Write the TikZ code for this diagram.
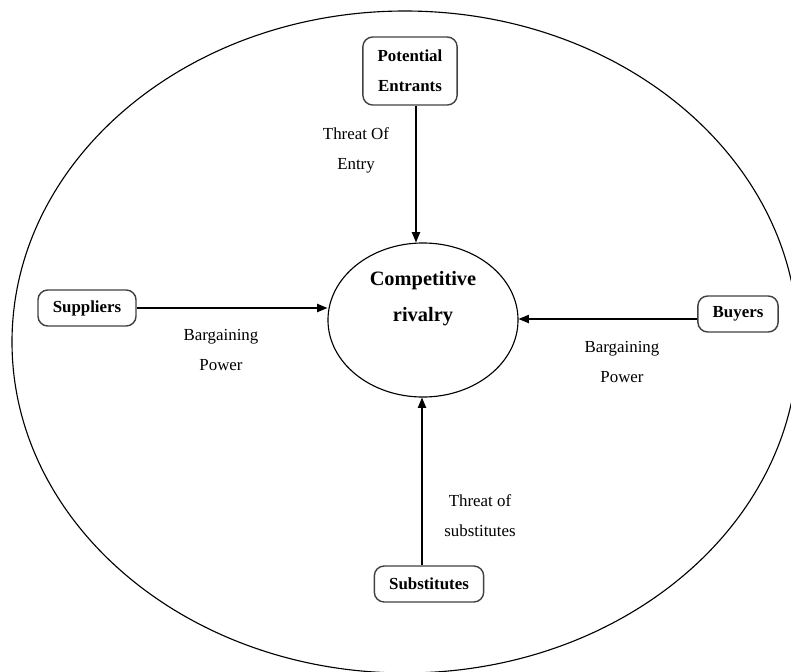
\documentclass[tikz,border=0pt]{standalone}
\usepackage{fontspec}
\setmainfont{Liberation Serif}
\usetikzlibrary{calc,positioning,arrows.meta,shapes.geometric}
\tikzset{
  >={Triangle[length=2.6mm,width=2.1mm]},
  force/.style={
    rectangle,
    rounded corners=7pt,
    draw=black!75, line width=1pt,
    font=\bfseries\fontsize{12}{21.3}\selectfont,
    inner xsep=0.37cm, inner ysep=0.12cm,
    minimum height=0.9cm,
    align=center},
  hub/.style={ellipse, draw, thick, minimum width=4.75cm, minimum height=3.85cm, inner sep=0pt},
  hubtext/.style={font=\bfseries\fontsize{14.5}{25.6}\selectfont, align=center},
  pressure/.style={font=\fontsize{12}{21.3}\selectfont, align=center},
  arrowline/.style={draw, thick, ->},
}
\begin{document}
\begin{tikzpicture}[x=0.025cm, y=-0.025cm]
  \useasboundingbox (0,0) rectangle (791,672);
  \clip (0,0) rectangle (791,672);
  % industry boundary
  \draw[thick] (405,342) ellipse [x radius=393, y radius=331];

  \node[hub] (rivalry) at (423,320) {};
  \node[hubtext] (rivalrytext) at (423,299) {Competitive\\rivalry};

  \node[force, minimum height=1.7cm] (entrants) at (410,71) {Potential\\Entrants};
  \node[force] (suppliers) at (87,308) {Suppliers};
  \node[force] (buyers) at (738,314) {Buyers};
  \node[force] (substitutes) at (429,584) {Substitutes};

  \draw[arrowline] ($(entrants.south)+(6,0)$) -- ($(rivalry.north)+(-7,0)$);
  \draw[arrowline] (suppliers.east) -- (suppliers.east -| rivalry.west);
  \coordinate (buyerstart) at ($(buyers.west)+(0,5)$);
  \draw[arrowline] (buyerstart) -- (buyerstart -| rivalry.east);
  \draw[arrowline] ($(substitutes.north)+(-7,0)$) -- ($(rivalry.south)+(-1,0)$);

  \node[pressure] (entrylabel) at (356,150) {Threat Of\\Entry};
  \node[pressure] (supplierlabel) at (221,350) {Bargaining\\Power};
  \node[pressure] (buyerlabel) at (622,362) {Bargaining\\Power};
  \node[pressure] (substitutelabel) at (480,516) {Threat of\\substitutes};
\end{tikzpicture}
\end{document}
